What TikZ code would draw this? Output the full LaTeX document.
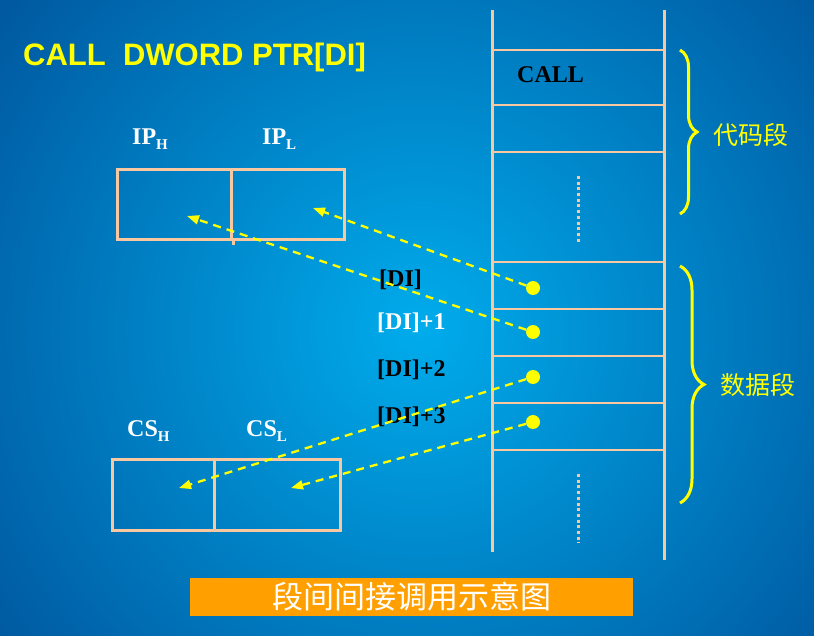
\documentclass[tikz,border=0pt]{standalone}
\usepackage{fontspec}
\setmainfont{Liberation Serif}
\newfontfamily\titlefont{Liberation Sans}
\newfontfamily\cjk{Noto Sans CJK SC}
\usetikzlibrary{arrows.meta,decorations.pathreplacing}
\definecolor{peach}{RGB}{250,200,160}
\definecolor{bgout}{RGB}{0,55,130}
\definecolor{bgin}{RGB}{0,172,236}
\definecolor{ylw}{RGB}{255,255,0}
\definecolor{banner}{RGB}{255,160,0}
\newcommand\regsub[1]{\raisebox{-5pt}{\fontsize{15}{15}\selectfont #1}}
\begin{document}
\begin{tikzpicture}[x=1pt,y=-1pt,
  lbl/.style={inner sep=0pt,anchor=base west,font=\fontsize{24}{24}\selectfont\bfseries},
  memline/.style={draw=peach,line width=1.5pt},
  memwall/.style={draw=peach,line width=3pt},
  cell/.style={draw=peach,line width=3pt,inner sep=0pt,anchor=north west},
  dot/.style={circle,fill=ylw,inner sep=0pt,minimum size=14pt},
  ptr/.style={draw=ylw,line width=2.3pt,dash pattern=on 8pt off 6pt,-{Triangle[length=12pt,width=9pt,fill=ylw]}},
  brc/.style={draw=ylw,line width=3pt,decorate,decoration={brace,amplitude=#1}},
  segname/.style={text=ylw,font=\cjk\fontsize{25}{25}\selectfont,inner sep=0pt,anchor=west},
  dotcol/.style={draw=peach,line width=3pt,dash pattern=on 3pt off 2.7pt}
]
\useasboundingbox (0,0) rectangle (814,636);
\begin{scope}
\clip (0,0) rectangle (814,636);
\fill[bgout] (0,0) rectangle (814,636);
\shade[inner color=bgin,outer color=bgout] (420,330) circle[radius=740pt];
\end{scope}
% memory column
\draw[memwall] (492,10) -- (492,552);
\draw[memwall] (664,10) -- (664,560);
\foreach \y in {50,105,152,262,309,356,403,450} \draw[memline] (492,\y) -- (664,\y);
\draw[dotcol] (578,176) -- (578,244);
\draw[dotcol] (578,474) -- (578,543);
% title
\node[inner sep=0pt,anchor=base west,text=ylw,font=\titlefont\fontsize{31}{31}\selectfont\bfseries] (title) at (23,66) {CALL\ \ DWORD PTR[DI]};
\node[lbl,text=black] (call) at (517,83) {CALL};
% register boxes
\node[cell,minimum width=114pt,minimum height=70pt] (iph) at (116,168) {};
\node[cell,minimum width=113pt,minimum height=70pt] (ipl) at (230,168) {};
\draw[peach,line width=3pt] (iph.south east) -- ++(0,4);
\node[cell,minimum width=102pt,minimum height=71pt] (csh) at (111,458) {};
\node[cell,minimum width=126pt,minimum height=71pt] (csl) at (213,458) {};
\node[lbl,text=white] (iphlab) at (132,145) {IP\regsub{H}};
\node[lbl,text=white] (ipllab) at (262,145) {IP\regsub{L}};
\node[lbl,text=white] (cshlab) at (127,436) {CS\regsub{H}};
\node[lbl,text=white] (csllab) at (246,436) {CS\regsub{L}};
% address labels
\node[lbl,text=black] (a0) at (379,287) {[DI]};
\node[lbl,text=white] (a1) at (377,330) {[DI]+1};
\node[lbl,text=black] (a2) at (377,376) {[DI]+2};
\node[lbl,text=black] (a3) at (377,423) {[DI]+3};
% dots and pointers
\node[dot] (d0) at (533,288) {};
\node[dot] (d1) at (533,332) {};
\node[dot] (d2) at (533,377) {};
\node[dot] (d3) at (533,422) {};
\coordinate (t0) at (313,208);
\coordinate (t1) at (187,216);
\coordinate (t2) at (179,488);
\coordinate (t3) at (291,488);
\draw[ptr] (d0) -- (t0);
\draw[ptr] (d1) -- (t1);
\draw[ptr] (d2) -- (t2);
\draw[ptr] (d3) -- (t3);
% braces
\coordinate (b0s) at (680,50);
\coordinate (b0e) at (680,214);
\draw[brc=17pt] (b0s) -- (b0e);
\node[segname] (code) at (713,135) {代码段};
\coordinate (b1s) at (680,266);
\coordinate (b1e) at (680,503);
\draw[brc=24pt] (b1s) -- (b1e);
\node[segname] (data) at (720,385) {数据段};
% banner
\node[fill=banner,minimum width=443pt,minimum height=38pt,inner sep=0pt,text=white,font=\cjk\fontsize{31}{31}\selectfont] (banner) at (411.5,597) {段间间接调用示意图};
\end{tikzpicture}
\end{document}
